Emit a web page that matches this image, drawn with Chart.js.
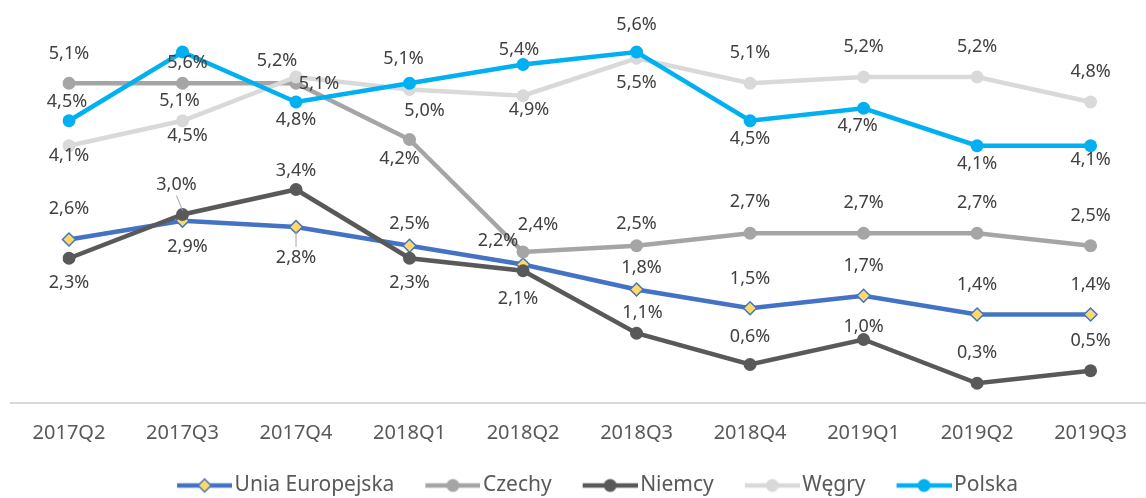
<!DOCTYPE html>
<html lang="pl">
<head>
    <meta charset="UTF-8">
    <title>Wzrost PKB</title>
    <script src="https://cdn.jsdelivr.net/npm/chart.js"></script>
    <style>
        body { margin: 0; background: #fff; }
    </style>
</head>
<body>
    <canvas id="gdpChart" width="1146" height="498"></canvas>

    <script>
        // dane
        const quarters = ['2017Q2', '2017Q3', '2017Q4', '2018Q1', '2018Q2', '2018Q3', '2018Q4', '2019Q1', '2019Q2', '2019Q3'];
        const ue      = [2.6, 2.9, 2.8, 2.5, 2.2, 1.8, 1.5, 1.7, 1.4, 1.4];
        const czechy  = [5.1, 5.1, 5.1, 4.2, 2.4, 2.5, 2.7, 2.7, 2.7, 2.5];
        const niemcy  = [2.3, 3.0, 3.4, 2.3, 2.1, 1.1, 0.6, 1.0, 0.3, 0.5];
        const wegry   = [4.1, 4.5, 5.2, 5.0, 4.9, 5.5, 5.1, 5.2, 5.2, 4.8];
        const polska  = [4.5, 5.6, 4.8, 5.1, 5.4, 5.6, 4.5, 4.7, 4.1, 4.1];

        // przesunięcia etykiet danych (px) względem punktu
        const labelOffsets = [
            [[0,-31],[5,26],[0,31],[0,-22],[-25,-24],[5,-22],[0,-29],[0,-30],[0,-30],[0,-30]],
            [[0,-29],[-3,18],[23,1],[-10,19],[15,-27],[0,-22],[0,-31],[0,-30],[0,-30],[0,-30]],
            [[0,25],[-6,-30],[0,-19],[0,25],[-5,28],[6,-20],[0,-28],[0,-13],[0,-30],[0,-30]],
            [[0,10],[5,15],[-19,-16],[15,21],[6,14],[0,25],[0,-30],[0,-30],[0,-30],[0,-30]],
            [[-2,-19],[5,11],[0,18],[-6,-24],[-4,-15],[0,-27],[0,18],[-6,18],[0,18],[0,14]]
        ];
        // linie odniesienia [seria, punkt]
        const leaders = [[2, 1], [0, 2]];

        const FONT = '"Noto Sans", "Open Sans", sans-serif';

        function legendIcon(color, diamond) {
            const c = document.createElement('canvas');
            c.width = 84; c.height = 20;
            const g = c.getContext('2d');
            g.strokeStyle = color;
            g.lineWidth = 4.5;
            g.beginPath(); g.moveTo(29, 10); g.lineTo(84, 10); g.stroke();
            g.beginPath();
            if (diamond) {
                g.moveTo(50, 10); g.lineTo(56.5, 3.5); g.lineTo(63, 10); g.lineTo(56.5, 16.5); g.closePath();
                g.fillStyle = '#FFD966'; g.fill();
                g.lineWidth = 1.5; g.strokeStyle = color; g.stroke();
            } else {
                g.arc(56.5, 10, 6.5, 0, Math.PI * 2);
                g.fillStyle = color; g.fill();
            }
            return c;
        }

        const baseline = {
            id: 'baseline',
            beforeDatasetsDraw(chart) {
                const ctx = chart.ctx;
                const y0 = chart.scales.y.getPixelForValue(0) + 1;
                ctx.save();
                ctx.strokeStyle = '#D9D9D9';
                ctx.lineWidth = 2;
                ctx.beginPath();
                ctx.moveTo(10, y0);
                ctx.lineTo(chart.width, y0);
                ctx.stroke();
                ctx.restore();
            }
        };

        const dataLabels = {
            id: 'dataLabels',
            afterDatasetsDraw(chart) {
                const ctx = chart.ctx;
                ctx.save();
                ctx.strokeStyle = '#A6A6A6';
                ctx.lineWidth = 1;
                leaders.forEach(([d, i]) => {
                    const p = chart.getDatasetMeta(d).data[i];
                    const off = labelOffsets[d][i];
                    const dir = off[1] > 0 ? -1 : 1;
                    ctx.beginPath();
                    ctx.moveTo(p.x + off[0], p.y + off[1] + dir * 11);
                    ctx.lineTo(p.x, p.y - dir * 4);
                    ctx.stroke();
                });
                ctx.font = '18px ' + FONT;
                ctx.fillStyle = '#404040';
                ctx.textAlign = 'center';
                ctx.textBaseline = 'middle';
                chart.data.datasets.forEach((ds, d) => {
                    chart.getDatasetMeta(d).data.forEach((p, i) => {
                        const off = labelOffsets[d][i];
                        const txt = ds.data[i].toFixed(1).replace('.', ',') + '%';
                        ctx.fillText(txt, p.x + off[0], p.y + off[1]);
                    });
                });
                ctx.restore();
            }
        };

        function series(label, data, color, order, diamond) {
            return {
                label: label,
                data: data,
                borderColor: color,
                backgroundColor: color,
                borderWidth: 4.5,
                tension: 0,
                pointStyle: diamond ? 'rectRot' : 'circle',
                pointRadius: 6.5,
                pointHoverRadius: 6.5,
                pointBackgroundColor: diamond ? '#FFD966' : color,
                pointBorderColor: color,
                pointBorderWidth: diamond ? 1.5 : 0,
                order: order,
                icon: legendIcon(color, diamond)
            };
        }

        const ctx = document.getElementById('gdpChart').getContext('2d');
        const gdpChart = new Chart(ctx, {
            type: 'line',
            data: {
                labels: quarters,
                datasets: [
                    series('Unia Europejska', ue, '#4472C4', 5, true),
                    series('Czechy', czechy, '#A5A5A5', 4, false),
                    series('Niemcy', niemcy, '#595959', 3, false),
                    series('Węgry', wegry, '#D9D9D9', 2, false),
                    series('Polska', polska, '#00B0F0', 1, false)
                ]
            },
            options: {
                responsive: false,
                animation: false,
                layout: { padding: { left: 69, right: 41, top: 27, bottom: -8 } },
                scales: {
                    x: {
                        offset: false,
                        grid: { display: false, drawTicks: false },
                        border: { display: false },
                        ticks: { color: '#595959', font: { size: 20, family: FONT }, padding: 19, maxRotation: 0 },
                        afterFit(scale) { scale.height = 63; }
                    },
                    y: { display: false, min: 0, max: 6 }
                },
                plugins: {
                    tooltip: { enabled: false },
                    legend: {
                        position: 'bottom',
                        labels: {
                            usePointStyle: true,
                            pointStyleWidth: 68,
                            padding: 10,
                            color: '#595959',
                            font: { size: 21, family: FONT },
                            generateLabels(chart) {
                                return chart.data.datasets.map((ds, i) => ({
                                    text: ds.label,
                                    pointStyle: ds.icon,
                                    fillStyle: 'transparent',
                                    strokeStyle: 'transparent',
                                    lineWidth: 0,
                                    fontColor: '#595959',
                                    hidden: false,
                                    datasetIndex: i
                                }));
                            }
                        }
                    }
                }
            },
            plugins: [baseline, dataLabels]
        });
    </script>
</body>
</html>
